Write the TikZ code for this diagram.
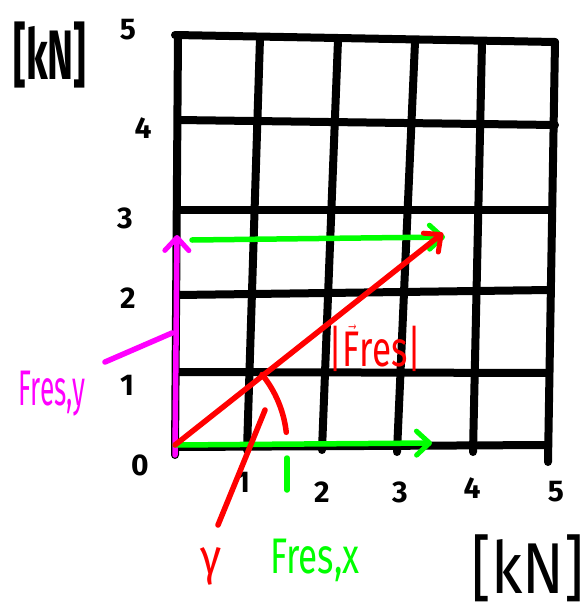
\documentclass[tikz,border=0pt]{standalone}
\usepackage{fontspec}
\setmainfont{Fira Sans}
\usetikzlibrary{arrows.meta}
\definecolor{mag}{RGB}{255,0,255}
\definecolor{grn}{RGB}{0,255,0}
\definecolor{rd}{RGB}{255,0,0}
\begin{document}
\begin{tikzpicture}[x=1pt,y=-1pt,
  gridline/.style={line width=8pt,black,line cap=round,line join=round},
  vecline/.style={line width=5.5pt,line cap=round,line join=round},
  tip/.style={-{Straight Barb[length=13pt,width=24pt,line width=5pt,round]}},
  tick/.style={font=\fontsize{30}{30}\selectfont\bfseries,inner sep=0pt},
  lbl/.style={font=\fontsize{50}{50}\selectfont,inner sep=0pt,xscale=0.7}]
\useasboundingbox (0,0) rectangle (587,613);
% grid
\draw[gridline] (178,35) -- (175,455);
\draw[gridline] (260,38) -- (247,450);
\draw[gridline] (338,40) -- (322,450);
\draw[gridline] (415,42) -- (397,452);
\draw[gridline] (482,42) -- (473,452);
\draw[gridline] (555,42) -- (548,462);
\draw[gridline] (175,35) -- (555,42);
\draw[gridline] (178,120) -- (555,125);
\draw[gridline] (178,210) -- (552,210);
\draw[gridline] (178,295) -- (550,290);
\draw[gridline] (178,372) -- (548,373);
\draw[gridline] (178,447) -- (548,445);
% tick labels
\node[tick] (y5) at (128,30) {5};
\node[tick] (y4) at (143,128) {4};
\node[tick] (y3) at (125,218) {3};
\node[tick] (y2) at (128,298) {2};
\node[tick] (y1) at (127,385) {1};
\node[tick] (y0) at (140,465) {0};
\node[tick] (x1) at (243,482) {1};
\node[tick] (x2) at (322,492) {2};
\node[tick] (x3) at (400,492) {3};
\node[tick] (x4) at (472,488) {4};
\node[tick] (x5) at (556,492) {5};
\node[font=\fontsize{70}{70}\selectfont\bfseries,inner sep=0pt,xscale=0.56] (unity) at (50,55) {[kN]};
\node[font=\fontsize{72}{72}\selectfont,inner sep=0pt,xscale=0.85] (unitx) at (528,568) {[kN]};
% coordinates
\coordinate (O) at (175,445);
\coordinate (Ry) at (177,235);
\coordinate (Rx) at (432,443);
\coordinate (R) at (443,233);
\coordinate (Ts) at (192,240);
\coordinate (Te) at (445,237);
% vectors
\draw[vecline,mag,tip] (175,455) -- (Ry);
\draw[vecline,grn,tip] (O) -- (Rx);
\draw[vecline,grn,tip] (Ts) -- (Te);
\draw[vecline,rd,tip] (O) -- (R);
% angle arc
\draw[vecline,rd] (O) ++(-39:112) arc[start angle=-39,end angle=-6.5,radius=112];
% labels and pointers
\node[lbl,mag,xscale=0.75] (fy) at (52,394) {Fres,y};
\node[lbl,rd,xscale=1.25] (gam) at (211,566) {γ};
\node[lbl,grn] (fx) at (315,560) {Fres,x};
\node[lbl,rd] (fr) at (375,348) {|$\vec{\mbox{F}}$res|};
\coordinate (py1) at (105,362);
\coordinate (py2) at (172,333);
\draw[vecline,mag] (py1) -- (py2);
\coordinate (pg1) at (218,525);
\coordinate (pg2) at (265,410);
\draw[vecline,rd] (pg1) -- (pg2);
\coordinate (px1) at (287,490);
\coordinate (px2) at (287,458);
\draw[vecline,grn] (px1) -- (px2);
\end{tikzpicture}
\end{document}
